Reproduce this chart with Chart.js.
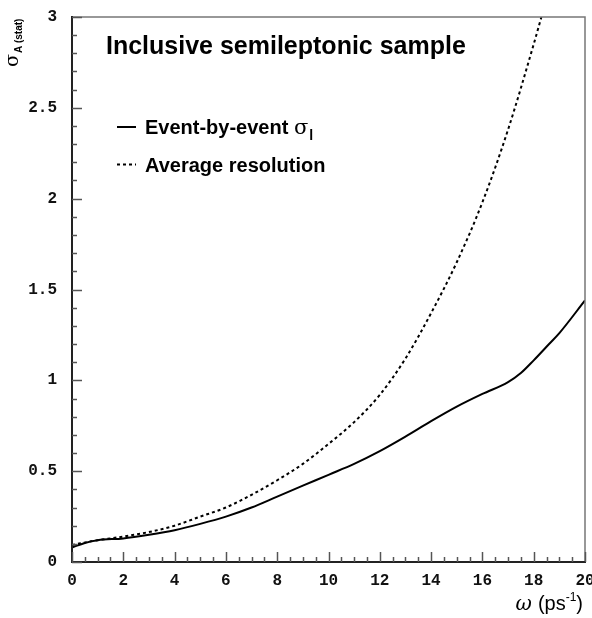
<!DOCTYPE html>
<html>
<head>
<meta charset="utf-8">
<title>Inclusive semileptonic sample</title>
<script src="https://cdn.jsdelivr.net/npm/chart.js@4.4.1/dist/chart.umd.min.js"></script>
<style>
  html, body { margin: 0; padding: 0; background: #fff; }
  #contenedor { width: 592px; height: 618px; position: relative; }
</style>
</head>
<body>
<div id="contenedor"><canvas id="grafico"></canvas></div>
<script>
// omega (ps^-1) and sigma_A(stat)
const omegaEventos = [0, 0.5, 1, 2, 3, 4, 5, 6, 7, 8, 9, 10, 11, 12, 13, 14, 15, 16, 17, 17.5, 18, 18.6, 19, 20];
const sigmaEventos = [0.08, 0.105, 0.12, 0.13, 0.15, 0.175, 0.21, 0.25, 0.30, 0.36, 0.42, 0.48, 0.54, 0.61, 0.69, 0.775, 0.855, 0.925, 0.99, 1.04, 1.11, 1.20, 1.26, 1.44];

const omegaPromedio = [0, 1, 2, 3, 4, 5, 6, 7, 8, 9, 10, 11, 12, 13, 14, 15, 16, 17, 18, 18.3];
const sigmaPromedio = [0.094, 0.12, 0.14, 0.165, 0.20, 0.25, 0.30, 0.37, 0.45, 0.54, 0.65, 0.77, 0.92, 1.12, 1.37, 1.65, 1.98, 2.38, 2.85, 3.0];

const etiquetasSerie = ["Event-by-event σ", "Average resolution"];
const tituloGrafico = "Inclusive semileptonic sample";

const ejeX = { min: 0, max: 20, paso: 2, menor: 0.5 };
const ejeY = { min: 0, max: 3, paso: 0.5, menor: 0.1 };

const fuenteTicks = { family: "'Liberation Mono', 'DejaVu Sans Mono', monospace", size: 16, weight: "bold" };

function puntos(xs, ys) {
  return xs.map((x, i) => ({ x, y: ys[i] }));
}

const marcoYTextos = {
  id: "marcoYTextos",
  afterDraw(chart) {
    const { ctx, chartArea: area, scales } = chart;
    const { x, y } = scales;
    ctx.save();

    // marco: ejes negros, borde superior/derecho gris
    ctx.lineCap = "square";
    ctx.strokeStyle = "#777";
    ctx.lineWidth = 1.5;
    ctx.beginPath();
    ctx.moveTo(area.left, area.top);
    ctx.lineTo(area.right, area.top);
    ctx.lineTo(area.right, area.bottom);
    ctx.stroke();

    ctx.strokeStyle = "#222";
    ctx.lineWidth = 2;
    ctx.beginPath();
    ctx.moveTo(area.left, area.top);
    ctx.lineTo(area.left, area.bottom);
    ctx.lineTo(area.right, area.bottom);
    ctx.stroke();

    // ticks hacia adentro
    ctx.strokeStyle = "#555";
    ctx.lineWidth = 1.5;
    ctx.lineCap = "butt";
    for (let i = 0; ejeX.min + i * ejeX.menor <= ejeX.max + 1e-9; i++) {
      const v = ejeX.min + i * ejeX.menor;
      const px = Math.round(x.getPixelForValue(v)) + 0.5;
      const largo = Math.abs(v / ejeX.paso - Math.round(v / ejeX.paso)) < 1e-6 ? 10 : 5;
      ctx.beginPath();
      ctx.moveTo(px, area.bottom);
      ctx.lineTo(px, area.bottom - largo);
      ctx.stroke();
    }
    for (let i = 0; ejeY.min + i * ejeY.menor <= ejeY.max + 1e-9; i++) {
      const v = ejeY.min + i * ejeY.menor;
      const py = Math.round(y.getPixelForValue(v)) + 0.5;
      const largo = Math.abs(v / ejeY.paso - Math.round(v / ejeY.paso)) < 1e-6 ? 10 : 5;
      ctx.beginPath();
      ctx.moveTo(area.left, py);
      ctx.lineTo(area.left + largo, py);
      ctx.stroke();
    }

    ctx.fillStyle = "#000";
    ctx.textBaseline = "alphabetic";

    // titulo
    ctx.font = "bold 25px 'Liberation Sans', Arial, sans-serif";
    ctx.textAlign = "left";
    ctx.fillText(tituloGrafico, 106, 54);

    // leyenda
    ctx.strokeStyle = "#000";
    ctx.lineWidth = 2;
    ctx.beginPath();
    ctx.moveTo(117, 127);
    ctx.lineTo(136, 127);
    ctx.stroke();
    ctx.setLineDash([3, 3]);
    ctx.beginPath();
    ctx.moveTo(117, 164.5);
    ctx.lineTo(136, 164.5);
    ctx.stroke();
    ctx.setLineDash([]);

    ctx.font = "bold 20px 'Liberation Sans', Arial, sans-serif";
    const texto1 = "Event-by-event ";
    ctx.fillText(texto1, 145, 134);
    let xs = 145 + ctx.measureText(texto1).width;
    ctx.font = "21px 'DejaVu Serif', serif";
    ctx.fillText("σ", xs, 134);
    xs += ctx.measureText("σ").width;
    ctx.font = "bold 14px 'Liberation Sans', Arial, sans-serif";
    ctx.fillText("l", xs + 1, 140);

    ctx.font = "bold 20px 'Liberation Sans', Arial, sans-serif";
    ctx.fillText(etiquetasSerie[1], 145, 172);

    // titulo eje y (rotado)
    ctx.save();
    ctx.translate(18, 67);
    ctx.rotate(-Math.PI / 2);
    ctx.font = "19px 'DejaVu Serif', serif";
    ctx.fillText("σ", 0, 0);
    const anchoSigma = ctx.measureText("σ").width;
    ctx.font = "bold 10px 'Liberation Sans', Arial, sans-serif";
    ctx.fillText("A (stat)", anchoSigma + 1, 4);
    ctx.restore();

    // titulo eje x, alineado a la derecha
    const partes = [
      { t: "ω", f: "italic 20px 'DejaVu Serif', serif", dy: 0, sep: 6 },
      { t: "(ps", f: "20px 'Liberation Sans', Arial, sans-serif", dy: 0, sep: 0 },
      { t: "-1", f: "12px 'Liberation Sans', Arial, sans-serif", dy: -9, sep: 0 },
      { t: ")", f: "20px 'Liberation Sans', Arial, sans-serif", dy: 0, sep: 0 },
    ];
    let total = 0;
    partes.forEach((p) => { ctx.font = p.f; p.w = ctx.measureText(p.t).width; total += p.w + p.sep; });
    let xx = 583 - total;
    partes.forEach((p) => {
      ctx.font = p.f;
      ctx.fillText(p.t, xx, 610 + p.dy);
      xx += p.w + p.sep;
    });

    ctx.restore();
  },
};

new Chart(document.querySelector("#grafico"), {
  type: "line",
  data: {
    datasets: [
      {
        label: etiquetasSerie[0],
        data: puntos(omegaEventos, sigmaEventos),
        borderColor: "#000",
        borderWidth: 2,
        pointRadius: 0,
        cubicInterpolationMode: "monotone",
        fill: false,
      },
      {
        label: etiquetasSerie[1],
        data: puntos(omegaPromedio, sigmaPromedio),
        borderColor: "#000",
        borderWidth: 2,
        borderDash: [3, 3],
        pointRadius: 0,
        cubicInterpolationMode: "monotone",
        fill: false,
      },
    ],
  },
  options: {
    responsive: true,
    maintainAspectRatio: false,
    animation: false,
    layout: { padding: { top: 17, right: 7, left: 0, bottom: 0 } },
    plugins: { legend: { display: false }, tooltip: { enabled: false } },
    scales: {
      x: {
        type: "linear",
        min: ejeX.min,
        max: ejeX.max,
        grid: { display: false, drawTicks: false },
        border: { display: false },
        ticks: { stepSize: ejeX.paso, color: "#111", font: fuenteTicks, padding: 9, maxRotation: 0, autoSkip: false },
        afterFit: (escala) => { escala.height = 56; escala.paddingLeft = 0; escala.paddingRight = 0; },
      },
      y: {
        min: ejeY.min,
        max: ejeY.max,
        grid: { display: false, drawTicks: false },
        border: { display: false },
        ticks: { stepSize: ejeY.paso, color: "#111", font: fuenteTicks, padding: 15, callback: (v) => String(v) },
        afterFit: (escala) => { escala.width = 72; escala.paddingTop = 0; escala.paddingBottom = 0; },
      },
    },
  },
  plugins: [marcoYTextos],
});
</script>
</body>
</html>
